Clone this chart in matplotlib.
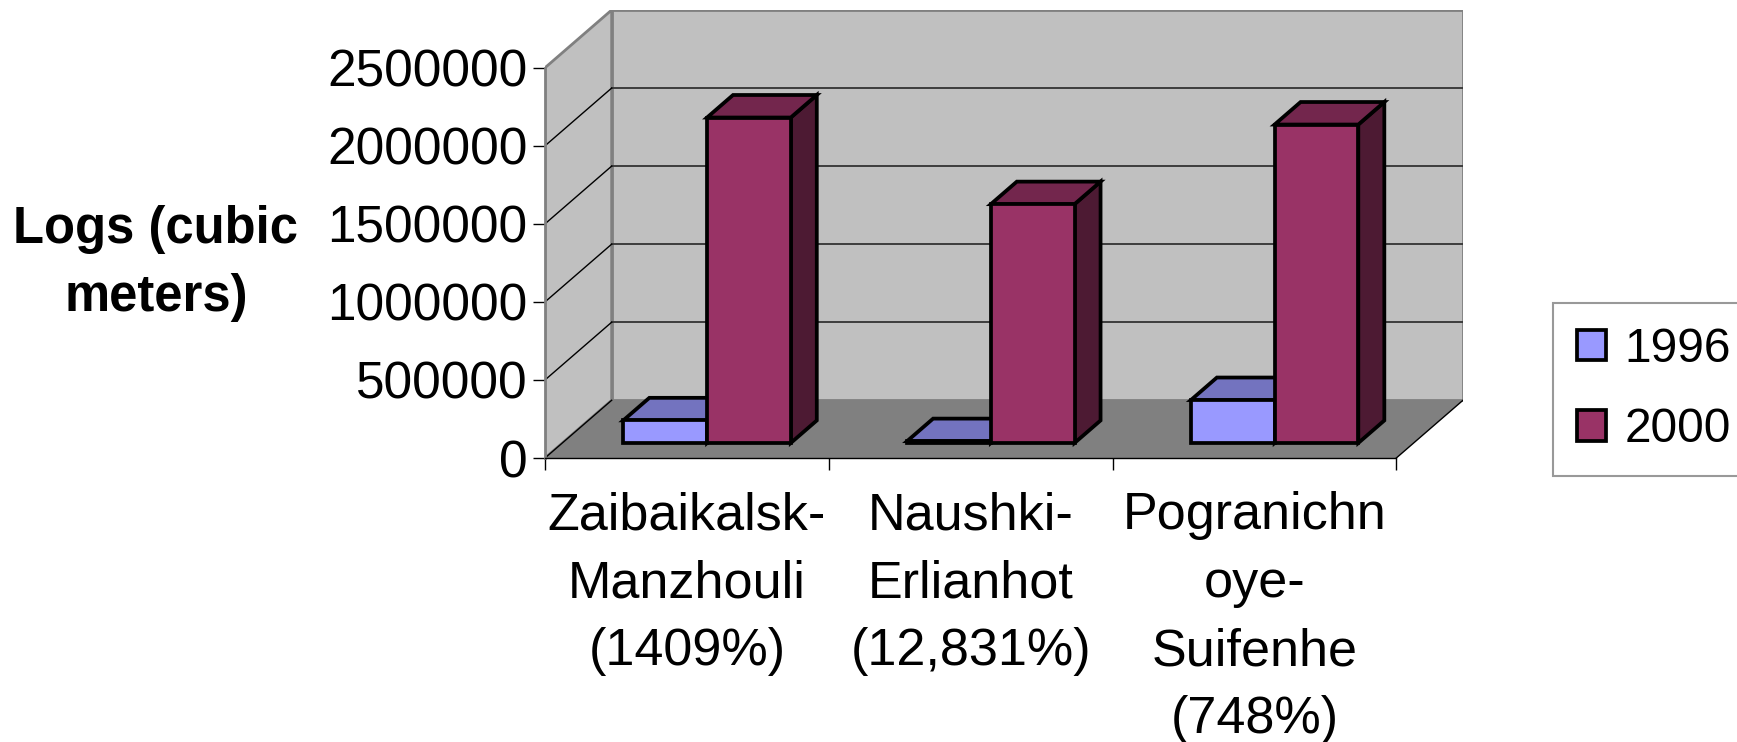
import matplotlib
matplotlib.use('Agg')
import matplotlib.pyplot as plt
from matplotlib.patches import Polygon, Patch

plt.rcParams['font.family'] = ['Liberation Sans', 'DejaVu Sans']

# Data
categories = ['Zaibaikalsk-\nManzhouli\n(1409%)',
              'Naushki-\nErlianhot\n(12,831%)',
              'Pogranichn\noye-\nSuifenhe\n(748%)']
years = ['1996', '2000']
logs_1996 = [145000, 11800, 275000]
logs_2000 = [2085000, 1530000, 2040000]
y_ticks = [0, 500000, 1000000, 1500000, 2000000, 2500000]

# Excel-style 3D look: oblique depth offset in data units
KX = 0.235
KY = 370000
YMAX = 2500000
n = len(categories)

face_cols = ['#9999FF', '#993366']
top_cols = ['#7373BF', '#73264D']
side_cols = ['#4D4D80', '#4D1A33']


def proj(x, y, d):
    return (x + d * KX, y + d * KY)


def draw_box(ax, x0, w, h, d0, d1, face, top, side):
    front = [proj(x0, 0, d0), proj(x0 + w, 0, d0), proj(x0 + w, h, d0), proj(x0, h, d0)]
    topf = [proj(x0, h, d0), proj(x0 + w, h, d0), proj(x0 + w, h, d1), proj(x0, h, d1)]
    sidef = [proj(x0 + w, 0, d0), proj(x0 + w, 0, d1), proj(x0 + w, h, d1), proj(x0 + w, h, d0)]
    for pts, col in [(sidef, side), (topf, top), (front, face)]:
        ax.add_patch(Polygon(pts, closed=True, facecolor=col, edgecolor='black',
                             linewidth=2.7, joinstyle='miter', zorder=3))


fig = plt.figure(figsize=(17.37, 7.42), dpi=100)
ax = fig.add_axes([545 / 1737, 284 / 742, 918 / 1737, 448 / 742])
ax.set_xlim(0, n + KX)
ax.set_ylim(0, YMAX + KY)
ax.set_facecolor('none')

# walls and floor
left_wall = [proj(0, 0, 0), proj(0, YMAX, 0), proj(0, YMAX, 1), proj(0, 0, 1)]
back_wall = [proj(0, 0, 1), proj(n, 0, 1), proj(n, YMAX, 1), proj(0, YMAX, 1)]
floor = [proj(0, 0, 0), proj(n, 0, 0), proj(n, 0, 1), proj(0, 0, 1)]
ax.add_patch(Polygon(left_wall, closed=True, facecolor='#C0C0C0', edgecolor='#808080',
                     linewidth=2, zorder=1))
ax.add_patch(Polygon(back_wall, closed=True, facecolor='#C0C0C0', edgecolor='#808080',
                     linewidth=2, zorder=1))
ax.add_patch(Polygon(floor, closed=True, facecolor='#808080', edgecolor='none', zorder=1.5))

# gridlines on back and side walls
for v in y_ticks[1:-1]:
    a, b = proj(0, v, 1), proj(n, v, 1)
    ax.plot([a[0], b[0]], [a[1], b[1]], color='#333333', lw=1.3, zorder=1.2)
    c = proj(0, v, 0)
    ax.plot([c[0], a[0]], [c[1], a[1]], color='black', lw=1, zorder=1.2)
# floor edges
p0, p1, p2 = proj(0, 0, 0), proj(n, 0, 0), proj(n, 0, 1)
ax.plot([p1[0], p2[0]], [p1[1], p2[1]], color='black', lw=1, zorder=1.6)
p3 = proj(0, 0, 1)
ax.plot([p0[0], p3[0]], [p0[1], p3[1]], color='black', lw=1, zorder=1.6)

# bars
bar_w = 0.295
start = 0.215
d0, d1 = 0.26, 0.65
for i in range(n):
    for j, vals in enumerate([logs_1996, logs_2000]):
        draw_box(ax, i + start + j * bar_w, bar_w, vals[i], d0, d1,
                 face_cols[j], top_cols[j], side_cols[j])

# axes styling
for s in ['top', 'right']:
    ax.spines[s].set_visible(False)
ax.spines['left'].set_bounds(0, YMAX)
ax.spines['left'].set_color('#808080')
ax.spines['left'].set_linewidth(2)
ax.spines['bottom'].set_bounds(0, n)
ax.spines['bottom'].set_color('black')
ax.spines['bottom'].set_linewidth(1)

ax.set_yticks(y_ticks)
ax.set_yticklabels([str(v) for v in y_ticks], fontsize=37)
ax.tick_params(axis='y', direction='out', length=8.6, width=1, color='black', pad=4)

ax.set_xticks(range(n + 1))
ax.set_xticklabels([])
ax.tick_params(axis='x', which='major', direction='out', length=8.6, width=1, color='black')
ax.set_xticks([i + 0.5 for i in range(n)], minor=True)
ax.set_xticklabels(categories, minor=True, fontsize=37.5, linespacing=1.5)
ax.tick_params(axis='x', which='minor', length=0, pad=24)

ax.set_ylabel('Logs (cubic\nmeters)', rotation=0, fontsize=36.5, fontweight='bold',
              ha='center', va='center', linespacing=1.5)
ax.yaxis.set_label_coords(-0.424, 0.434)

handles = [Patch(facecolor=face_cols[j], edgecolor='black', linewidth=2.7) for j in range(2)]
leg = fig.legend(handles, years, loc='upper left', bbox_to_anchor=(1553 / 1737, 1 - 303 / 742),
                 fontsize=34.5, frameon=True, fancybox=False, borderaxespad=0, borderpad=0.5,
                 handlelength=0.6, handleheight=0.6, handletextpad=0.4, labelspacing=0.74)
leg.get_frame().set_edgecolor('#808080')
leg.get_frame().set_linewidth(1.5)

fig.savefig('out.png', dpi=100)
